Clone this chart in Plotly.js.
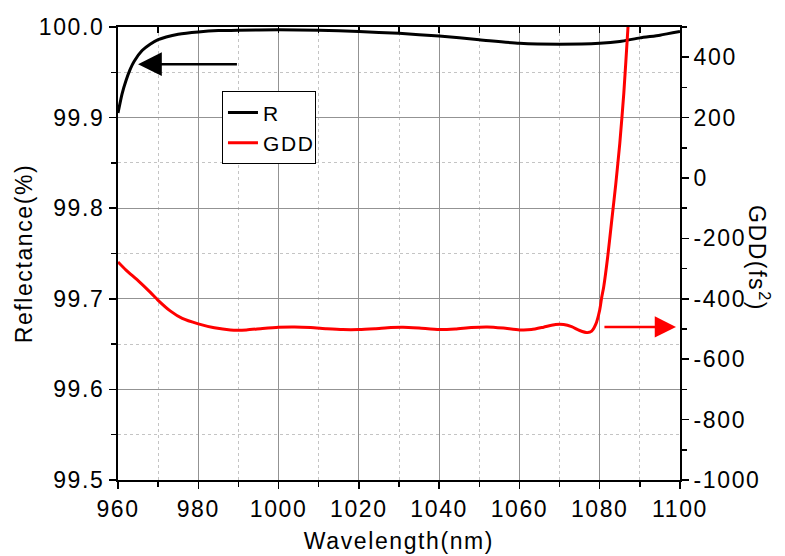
<!DOCTYPE html>
<html>
<head>
<meta charset="utf-8">
<script src="https://cdn.plot.ly/plotly-3.0.1.min.js"></script>
<style>
html,body{margin:0;padding:0;background:#fff;}
.main-svg text{letter-spacing:1.6px;}
</style>
</head>
<body>
<div id="chart" style="width:785px;height:556px;"></div>
<script>
// Reflectance (left axis)
const wlR = [960, 961, 962, 963, 964, 966, 968, 970, 972, 975, 980, 985, 990, 1000, 1010, 1020, 1030, 1040, 1050, 1060, 1070, 1080, 1085, 1090, 1095, 1100];
const reflectance = [99.905, 99.926, 99.941, 99.953, 99.962, 99.974, 99.981, 99.986, 99.989, 99.992, 99.9945, 99.996, 99.9965, 99.997, 99.9965, 99.995, 99.993, 99.990, 99.986, 99.982, 99.981, 99.982, 99.984, 99.988, 99.991, 99.995];

// GDD (right axis)
const wlG = [960, 962, 965, 968, 970, 973, 976, 980, 984, 988, 992, 996, 1000, 1004, 1008, 1012, 1016, 1020, 1024, 1028, 1031, 1035, 1040, 1044, 1048, 1052, 1056, 1060, 1063, 1066, 1069, 1071, 1073, 1075, 1077, 1078, 1079, 1080, 1080.5, 1081, 1082, 1083, 1084, 1085, 1086, 1087, 1088];
const gdd = [-278, -305, -340, -378, -405, -440, -465, -483, -496, -503, -503, -498, -494, -493, -495, -499, -502, -502, -499, -495, -494, -497, -502, -500, -495, -493, -497, -503, -502, -494, -485, -485, -492, -505, -512, -507, -485, -437, -395, -360, -260, -140, -20, 115, 280, 490, 700];

// Axis ticks
const xTicks = [960, 980, 1000, 1020, 1040, 1060, 1080, 1100];
const yTicks = [99.5, 99.6, 99.7, 99.8, 99.9, 100.0];
const y2Ticks = [-1000, -800, -600, -400, -200, 0, 200, 400];

const tickFont = {family: 'Arial, "Liberation Sans", sans-serif', size: 23, color: '#000'};
const titleFont = {family: 'Arial, "Liberation Sans", sans-serif', size: 23, color: '#000'};

const traces = [
  {x: wlR, y: reflectance, name: 'R', type: 'scatter', mode: 'lines', yaxis: 'y',
   line: {color: '#000000', width: 3, shape: 'spline', smoothing: 0.6}, hoverinfo: 'skip'},
  {x: wlG, y: gdd, name: 'GDD', type: 'scatter', mode: 'lines', yaxis: 'y2',
   line: {color: '#ff0000', width: 3, shape: 'spline', smoothing: 0.6}, hoverinfo: 'skip'},
  {x: [960, 1100], y: [99.5, 99.5], xaxis: 'x2', yaxis: 'y', type: 'scatter', mode: 'markers',
   marker: {opacity: 0, size: 1}, showlegend: false, hoverinfo: 'skip'}
];

const layout = {
  width: 785, height: 556,
  margin: {l: 118, r: 105, t: 27, b: 76},
  paper_bgcolor: '#fff', plot_bgcolor: '#fff',
  showlegend: true,
  legend: {x: 0.185, y: 0.858, xanchor: 'left', yanchor: 'top',
    bgcolor: '#fff', bordercolor: '#000', borderwidth: 1,
    font: {family: 'Arial, "Liberation Sans", sans-serif', size: 21, color: '#000'},
    tracegroupgap: 0, itemwidth: 30},
  xaxis: {
    range: [960, 1100], tickvals: xTicks, ticktext: xTicks.map(String),
    showline: true, linecolor: '#000', linewidth: 2,
    ticks: 'outside', ticklen: 7, tickwidth: 1.5, tickcolor: '#000',
    tickfont: tickFont,
    showgrid: true, gridcolor: '#939393', gridwidth: 1,
    zeroline: false,
    minor: {dtick: 10, tick0: 960, ticks: 'outside', ticklen: 5, tickwidth: 1.5, tickcolor: '#000',
            showgrid: true, gridcolor: '#c4c4c4', griddash: 'dot', gridwidth: 1},
    title: {text: 'Wavelength(nm)', font: titleFont, standoff: 12}
  },
  xaxis2: {
    range: [960, 1100], overlaying: 'x', side: 'top', anchor: 'y',
    showline: true, linecolor: '#000', linewidth: 2,
    ticks: 'inside', ticklen: 6, tickwidth: 1.5, tickcolor: '#000', dtick: 10, tick0: 960,
    showticklabels: false, showgrid: false, zeroline: false
  },
  yaxis: {
    range: [99.5, 100.0], tickvals: yTicks, ticktext: yTicks.map(v => v.toFixed(1)),
    showline: true, linecolor: '#000', linewidth: 2,
    ticks: 'outside', ticklen: 7, tickwidth: 1.5, tickcolor: '#000',
    tickfont: tickFont,
    showgrid: true, gridcolor: '#939393', gridwidth: 1,
    zeroline: false,
    minor: {dtick: 0.05, tick0: 99.5, ticks: 'outside', ticklen: 5, tickwidth: 1.5, tickcolor: '#000',
            showgrid: true, gridcolor: '#c4c4c4', griddash: 'dot', gridwidth: 1},
    title: {text: 'Reflectance(%)', font: titleFont, standoff: 8}
  },
  yaxis2: {
    range: [-1000, 500], overlaying: 'y', side: 'right', anchor: 'x',
    tickvals: y2Ticks, ticktext: y2Ticks.map(String),
    showline: true, linecolor: '#000', linewidth: 2,
    ticks: 'outside', ticklen: 7, tickwidth: 1.5, tickcolor: '#000',
    tickfont: tickFont,
    showgrid: false, zeroline: false,
    minor: {dtick: 100, tick0: -1000, ticks: 'outside', ticklen: 5, tickwidth: 1.5, tickcolor: '#000', showgrid: false}
  },
  annotations: [
    {text: 'GDD(fs<sup>2</sup>)', xref: 'paper', yref: 'paper', x: 1.14, y: 0.49,
     textangle: 90, showarrow: false, font: titleFont, xanchor: 'center', yanchor: 'middle'},
    {text: '', xref: 'x', yref: 'y', axref: 'x', ayref: 'y', x: 965, y: 99.959, ax: 990, ay: 99.959,
     showarrow: true, arrowhead: 2, arrowsize: 1.9, arrowwidth: 2.5, arrowcolor: '#000', standoff: 0},
    {text: '', xref: 'x', yref: 'y2', axref: 'x', ayref: 'y2', x: 1099, y: -493, ax: 1080.8, ay: -493,
     showarrow: true, arrowhead: 2, arrowsize: 1.7, arrowwidth: 2.5, arrowcolor: '#ff0000', standoff: 0}
  ]
};

Plotly.newPlot('chart', traces, layout, {staticPlot: true, displayModeBar: false});
</script>
</body>
</html>
